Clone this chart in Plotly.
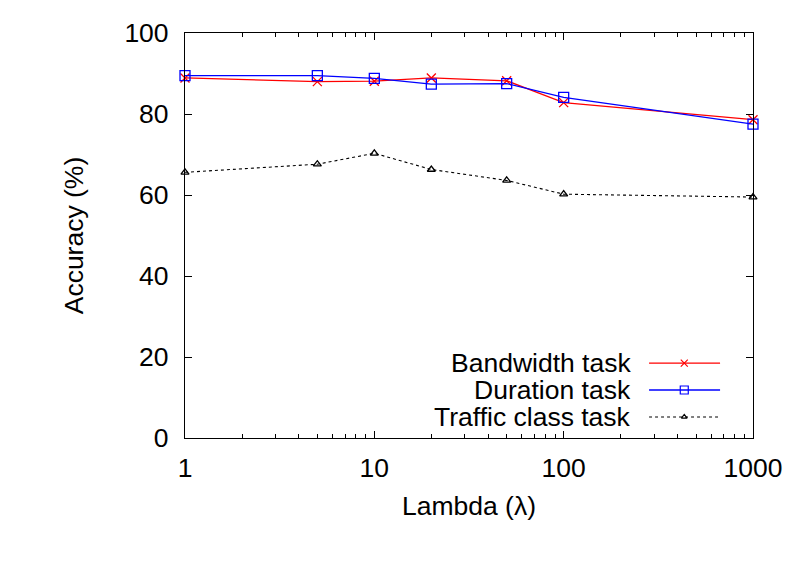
import plotly.graph_objects as go

lambdas = [1, 5, 10, 20, 50, 100, 1000]
bandwidth = [88.9, 88.0, 88.1, 88.9, 88.2, 82.8, 78.6]
duration = [89.5, 89.5, 88.8, 87.4, 87.5, 84.1, 77.5]
traffic = [65.6, 67.6, 70.3, 66.3, 63.6, 60.2, 59.5]
series_names = ["Bandwidth task", "Duration task", "Traffic class task"]
x_ticks = [1, 10, 100, 1000]
y_ticks = [0, 20, 40, 60, 80, 100]
x_minor_ticks = [m * d for d in (1, 10, 100) for m in range(2, 10)]

FONT = "Liberation Sans, Arial, sans-serif"
FS = 26.5
styles = [
    dict(color="#ff0000", width=1.3, dash="solid", symbol="x-thin-open", size=9),
    dict(color="#0000ff", width=1.3, dash="solid", symbol="square-open", size=10),
    dict(color="#000000", width=1.1, dash="dot", symbol="triangle-up-open", size=7),
]

fig = go.Figure()
for name, vals, st in zip(series_names, [bandwidth, duration, traffic], styles):
    fig.add_trace(go.Scatter(
        x=lambdas, y=vals, mode="lines+markers", name=name, showlegend=False,
        line=dict(color=st["color"], width=st["width"], dash=st["dash"]),
        marker=dict(symbol=st["symbol"], size=st["size"], color=st["color"],
                    line=dict(color=st["color"], width=1.3)),
        cliponaxis=False,
    ))

# legend samples drawn on a hidden overlay axis (gnuplot-style: key text left, sample right)
leg_y = [0.185, 0.1185, 0.052]
leg_x0, leg_xm, leg_x1 = 0.817, 0.879, 0.942
for name, st, yy in zip(series_names, styles, leg_y):
    fig.add_trace(go.Scatter(
        x=[leg_x0, leg_xm, leg_x1], y=[yy, yy, yy], xaxis="x2", yaxis="y2",
        mode="lines", showlegend=False, hoverinfo="skip",
        line=dict(color=st["color"], width=st["width"], dash=st["dash"]),
    ))
    fig.add_trace(go.Scatter(
        x=[leg_xm], y=[yy], xaxis="x2", yaxis="y2", mode="markers",
        showlegend=False, hoverinfo="skip",
        marker=dict(symbol=st["symbol"], size=st["size"] - 2, color=st["color"],
                    line=dict(color=st["color"], width=1.2)),
    ))
    fig.add_annotation(x=0.789, y=yy, xref="paper", yref="paper", text=name,
                       showarrow=False, xanchor="right", yanchor="middle",
                       font=dict(family=FONT, size=FS, color="black"))

fig.update_layout(
    width=803, height=578,
    margin=dict(l=185, r=50, t=33, b=140),
    plot_bgcolor="white", paper_bgcolor="white",
    font=dict(family=FONT, size=FS, color="black"),
    showlegend=False,
    xaxis=dict(
        type="log", range=[0, 3], tickvals=x_ticks, ticktext=[str(v) for v in x_ticks],
        ticks="inside", ticklen=7, tickwidth=1, tickcolor="black",
        showline=True, linecolor="black", linewidth=1.2, mirror="allticks",
        showgrid=False, zeroline=False,
        minor=dict(ticks="inside", ticklen=4, tickcolor="black", showgrid=False,
                   tickvals=x_minor_ticks),
        title=dict(text="Lambda (λ)", font=dict(size=FS), standoff=14),
        ticklabelstandoff=6,
    ),
    yaxis=dict(
        range=[0, 100], tickvals=y_ticks,
        ticks="inside", ticklen=7, tickwidth=1, tickcolor="black",
        showline=True, linecolor="black", linewidth=1.2, mirror="allticks",
        showgrid=False, zeroline=False,
        title=dict(text="Accuracy (%)", font=dict(size=FS), standoff=33),
        ticklabelstandoff=10,
    ),
    xaxis2=dict(overlaying="x", range=[0, 1], visible=False, fixedrange=True),
    yaxis2=dict(overlaying="y", range=[0, 1], visible=False, fixedrange=True),
)

fig.write_html("out.html")
